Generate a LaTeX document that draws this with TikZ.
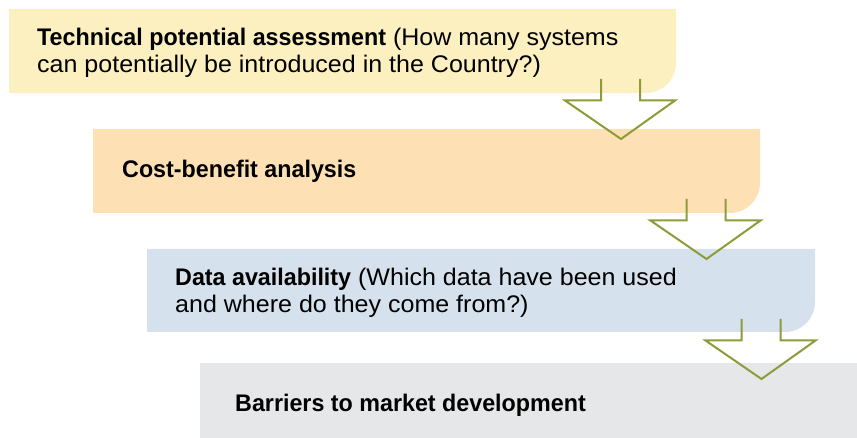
\documentclass[tikz,border=0pt]{standalone}
\usepackage{fontspec}
\setmainfont{Liberation Sans}[FakeStretch=1.043, BoldFeatures={FakeStretch=0.97}]
\definecolor{cyellow}{HTML}{FDF0C0}
\definecolor{corange}{HTML}{FDE0B4}
\definecolor{cblue}{HTML}{D5E1EC}
\definecolor{cgrey}{HTML}{E6E7E8}
\definecolor{colive}{HTML}{8D9B3A}
\newcommand\mybox[5]{% x1 y1 x2 y2 colour
  \fill[#5] (#1,#2) -- (#3,#2) -- (#3,#4-30)
    .. controls (#3,#4-13.4) and (#3-13.4,#4) .. (#3-30,#4)
    -- (#1,#4) -- cycle;}
\newcommand\myarrow[3]{% shaft-left x, shaft top y, name
  \draw[arrowline] (#1,#2) -- (#1,#2+21.5) -- (#1-36,#2+21.5)
    -- (#1+20,#2+60) coordinate (#3) -- (#1+74,#2+21.5) -- (#1+39,#2+21.5) -- (#1+39,#2);}
\tikzset{
  arrowline/.style={draw=colive, line width=2pt, miter limit=10},
  boxtext/.style={anchor=base west, inner sep=0pt, align=left, font=\fontsize{24}{27}\selectfont, text=black}
}
\begin{document}
\begin{tikzpicture}[x=1pt,y=-1pt]
\useasboundingbox (0,0) rectangle (857,438);
\mybox{9}{9}{676}{93}{cyellow}
\mybox{93}{129}{760}{213}{corange}
\mybox{147}{249}{815}{332}{cblue}
\fill[cgrey] (200,363) rectangle (857,438);
\node[boxtext] (t1) at (37,73) {\textbf{Technical potential assessment} (How many systems\\can potentially be introduced in the Country?)};
\node[boxtext] (t2) at (122,177.5) {\textbf{Cost-benefit analysis}};
\node[boxtext] (t3) at (175,313) {\textbf{Data availability} (Which data have been used\\and where do they come from?)};
\node[boxtext] (t4) at (235,411) {\textbf{Barriers to market development}};
\myarrow{601}{79}{tipa}
\myarrow{686.5}{199}{tipb}
\myarrow{741.5}{319}{tipc}
\end{tikzpicture}
\end{document}
